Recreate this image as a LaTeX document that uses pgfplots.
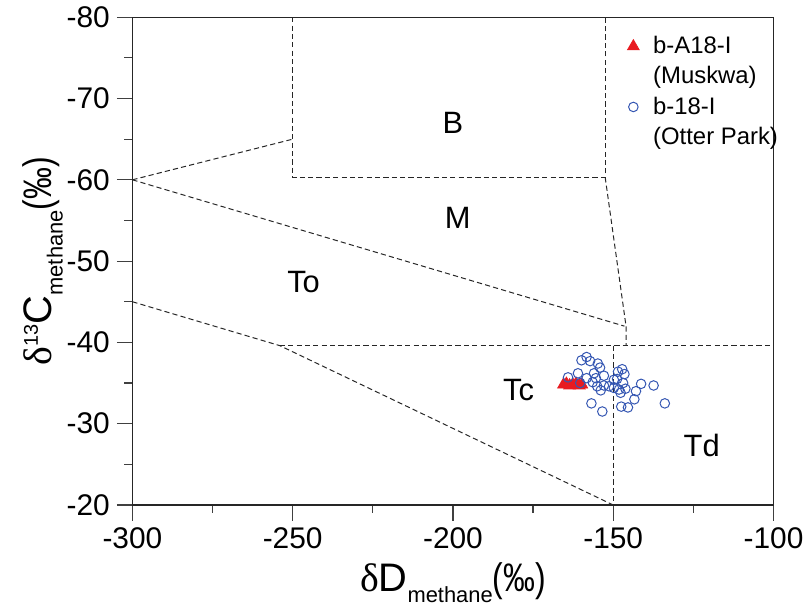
\documentclass[border=0pt]{standalone}
\usepackage{pgfplots}
\pgfplotsset{compat=1.18}
\usepackage{graphicx}
\usepackage{fontspec}
\setmainfont{Liberation Sans}
\newfontfamily\greekfont{Liberation Serif}
\definecolor{ptred}{RGB}{232,26,32}
\definecolor{ptblue}{RGB}{52,86,178}

\newcommand{\permil}{\scalebox{0.8}[1]{(‰)}}
\newcommand{\sub}[1]{\raisebox{-5.5pt}{\fontsize{11}{12}\selectfont #1}}
\newcommand{\sups}[1]{\raisebox{7pt}{\fontsize{10}{11}\selectfont #1}}

\pgfplotsset{
  region/.style={black!85, line width=0.5pt, dash pattern=on 2.6pt off 1.6pt, no markers, forget plot},
}

\begin{document}
\begin{tikzpicture}
\begin{axis}[
  width=322pt, height=245pt, scale only axis,
  xmin=-300, xmax=-100, ymin=-80, ymax=-20,
  y dir=reverse,
  xtick={-300,-250,...,-100},
  ytick={-80,-70,...,-20},
  minor tick num=1,
  tick align=outside, xtick pos=left, ytick pos=left,
  major tick length=7.8pt, minor tick length=4pt,
  axis line style={line width=0.7pt, black!85},
  every tick/.style={black!75, line width=0.6pt},
  ticklabel style={font=\fontsize{15}{17}\selectfont},
  /pgf/number format/assume math mode=true,
  label style={font=\fontsize{20}{22}\selectfont},
  xlabel={{\greekfont δ}D\sub{methane}\permil},
  ylabel={{\greekfont δ}\sups{13}C\sub{methane}\permil},
  ylabel style={yshift=-5pt},
  legend style={at={(0.745,0.978)}, anchor=north west, draw=none, fill=none,
    font=\fontsize{12}{13.2}\selectfont, row sep=1pt,
    /tikz/every odd column/.style={column sep=5pt}},
  legend cell align=left,
]
% classification field boundaries
\addplot[region] coordinates {(-300,-60) (-250,-65)};
\addplot[region] coordinates {(-250,-80) (-250,-60.3) (-152.5,-60.3) (-152.5,-80)};
\addplot[region] coordinates {(-152.5,-60.3) (-146,-42) (-146,-39.6)};
\addplot[region] coordinates {(-300,-60) (-146.5,-42)};
\addplot[region] coordinates {(-300,-45) (-254,-39.6) (-150,-20)};
\addplot[region] coordinates {(-254,-39.6) (-100,-39.6)};
\addplot[region] coordinates {(-150,-39.6) (-150,-20)};

% b-A18-I (Muskwa)
\addplot[only marks, mark=triangle*, mark size=3.4pt, color=ptred] coordinates {
  (-165.5,-34.8) (-164.6,-34.9) (-163.6,-34.7) (-162.6,-34.8)
  (-161.6,-34.9) (-160.6,-34.7) (-159.8,-34.8)
};
\addlegendentry{b-A18-I}
\addlegendimage{empty legend}
\addlegendentry{(Muskwa)}

% b-18-I (Otter Park)
\addplot[only marks, mark=o, mark size=2.4pt, color=ptblue, mark options={line width=0.5pt}] coordinates {
  (-158.3,-38.2) (-159.9,-37.8) (-157.2,-37.7) (-154.8,-37.4) (-154.1,-36.9)
  (-164.1,-35.7) (-161.0,-36.2) (-158.3,-35.6) (-156.0,-36.2) (-152.9,-35.9)
  (-160.3,-35.0) (-156.4,-35.1) (-155.0,-34.6) (-153.9,-34.1) (-151.3,-34.6)
  (-149.8,-35.4) (-148.5,-36.4) (-147.2,-36.7) (-146.5,-36.1) (-148.8,-35.5)
  (-146.9,-35.0) (-146.2,-34.3) (-147.7,-33.8) (-148.2,-34.2) (-142.9,-34.0)
  (-141.3,-34.9) (-137.4,-34.7) (-143.4,-33.0) (-156.8,-32.5) (-153.4,-31.5)
  (-147.5,-32.1) (-145.4,-32.0) (-133.9,-32.5) (-152.9,-34.7) (-149.8,-34.4)
  (-155.4,-35.6)
};
\addlegendentry{b-18-I}
\addlegendimage{empty legend}
\addlegendentry{(Otter Park)}

% field labels
\node[font=\fontsize{15.5}{17}\selectfont] at (axis cs:-200,-67) {B};
\node[font=\fontsize{15.5}{17}\selectfont] at (axis cs:-198.5,-55.3) {M};
\node[font=\fontsize{15.5}{17}\selectfont] at (axis cs:-246.6,-47.4) {To};
\node[font=\fontsize{15.5}{17}\selectfont] at (axis cs:-179.5,-34.2) {Tc};
\node[font=\fontsize{15.5}{17}\selectfont] at (axis cs:-122.4,-27.3) {Td};
\end{axis}
% blank margin left of the y label, as in the reference
\path (current axis.south west) ++(-66.5pt,0pt);
\end{tikzpicture}
\end{document}
